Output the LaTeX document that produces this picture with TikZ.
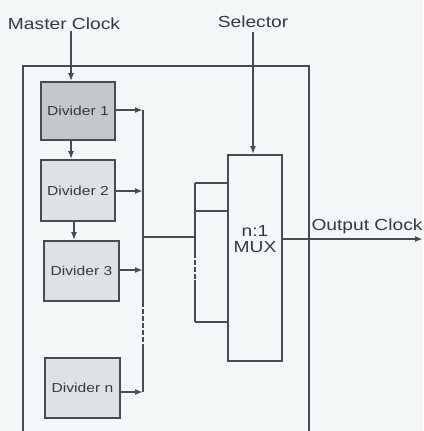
\documentclass[tikz,border=0pt]{standalone}
\usepackage{fontspec}
\setmainfont[FakeStretch=1.2]{Liberation Sans}
\usetikzlibrary{arrows.meta}
\definecolor{bg}{HTML}{F3F7F7}
\definecolor{ln}{HTML}{464C51}
\definecolor{dark}{HTML}{C4C8CC}
\definecolor{light}{HTML}{DFE2E4}
\begin{document}
\begin{tikzpicture}[x=1pt,y=-1pt,
  wire/.style={draw=ln,line width=2pt},
  arr/.style={wire,-{Latex[length=8pt,width=6pt]}},
  brokenwire/.style={wire,dash pattern=on 5pt off 2pt},
  divbox/.style={draw=ln,line width=1.8pt,minimum width=74pt,minimum height=60pt,inner sep=0pt,font=\fontsize{13}{15}\selectfont,text=ln!75!black},
  lbl/.style={inner sep=0pt,font=\fontsize{16}{18}\selectfont,text=ln!75!black}]
\fill[bg] (0,0) rectangle (423,431);
\useasboundingbox (0,0) rectangle (423,431);
% outer frame
\draw[wire] (23,431) -- (23,66) -- (309,66) -- (309,431);
% dividers
\node[divbox,fill=dark,minimum height=58pt] (d1) at (78,111) {Divider 1};
\node[divbox,fill=light,minimum height=61pt] (d2) at (78,190.5) {Divider 2};
\node[divbox,fill=light,minimum width=75pt] (d3) at (81.5,271) {Divider 3};
\node[divbox,fill=light,minimum width=75pt] (dn) at (82.5,388) {Divider n};
% mux
\node[draw=ln,line width=1.8pt,minimum width=54pt,minimum height=206pt,inner sep=0pt,fill=bg] (mux) at (255,258) {};
\node[lbl,align=center] (muxt) at (255,239) {n:1\\[-2pt]MUX};
% labels
\node[lbl] (mc) at (64,24) {Master Clock};
\node[lbl] (sel) at (253,22) {Selector};
\node[lbl] (oc) at (367,226) {Output Clock};
% coordinates
\coordinate (mcin) at (71,31);
\coordinate (selin) at (253,32);
\coordinate (b1) at (143,110);
\coordinate (b2) at (143,191);
\coordinate (b3) at (143,270);
\coordinate (bn) at (143,392);
\coordinate (bda) at (143,302);
\coordinate (bdb) at (143,348);
\coordinate (bm) at (143,237);
\coordinate (va) at (195,183);
\coordinate (vb) at (195,211);
\coordinate (vm) at (195,237);
\coordinate (vda) at (195,253);
\coordinate (vdb) at (195,280);
\coordinate (vc) at (195,322);
\coordinate (outs) at (282,239);
\coordinate (oute) at (423,239);
% clock chain
\draw[arr] (mcin) -- (mcin |- d1.north);
\draw[arr] (d1.south -| 71,0) -- (d2.north -| 71,0);
\draw[arr] (d2.south -| 74,0) -- (d3.north -| 74,0);
% outputs to bus
\draw[arr] (d1.east |- b1) -- (b1);
\draw[arr] (d2.east |- b2) -- (b2);
\draw[arr] (d3.east |- b3) -- (b3);
\draw[arr] (dn.east |- bn) -- (bn);
\draw[wire] (b1) -- (bda);
\draw[brokenwire] (bda) -- (bdb);
\draw[wire] (bdb) -- (bn);
% bus to mux
\draw[wire] (bm) -- (vm);
\draw[wire] (va) -- (vda);
\draw[brokenwire] (vda) -- (vdb);
\draw[wire] (vdb) -- (vc);
\draw[wire] (va) -- (mux.west |- va);
\draw[wire] (vb) -- (mux.west |- vb);
\draw[wire] (vc) -- (mux.west |- vc);
% selector and output
\draw[arr] (selin) -- (selin |- mux.north);
\draw[arr] (mux.east |- outs) -- (oute);
\end{tikzpicture}
\end{document}
